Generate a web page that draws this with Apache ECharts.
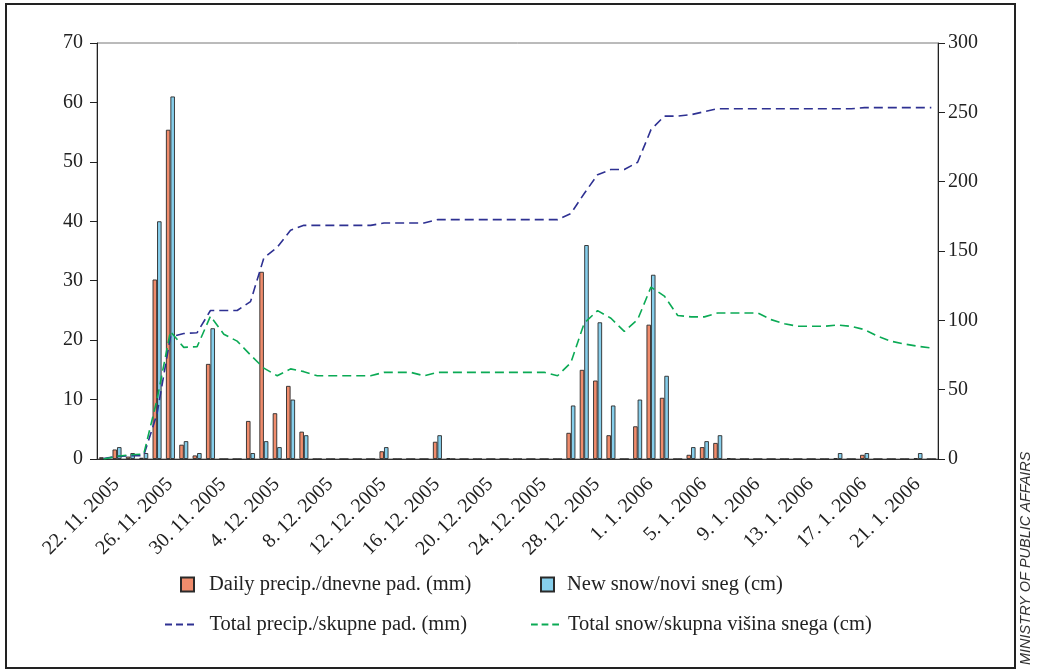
<!DOCTYPE html>
<html>
<head>
<meta charset="utf-8">
<script src="https://cdn.jsdelivr.net/npm/echarts@6/dist/echarts.min.js"></script>
<style>html,body{margin:0;padding:0;background:#fff;}#c{width:1038px;height:670px;}</style>
</head>
<body>
<div id="c"></div>
<script>
const categories = [
 '22. 11. 2005','23. 11. 2005','24. 11. 2005','25. 11. 2005','26. 11. 2005','27. 11. 2005','28. 11. 2005','29. 11. 2005','30. 11. 2005',
 '1. 12. 2005','2. 12. 2005','3. 12. 2005','4. 12. 2005','5. 12. 2005','6. 12. 2005','7. 12. 2005','8. 12. 2005','9. 12. 2005','10. 12. 2005',
 '11. 12. 2005','12. 12. 2005','13. 12. 2005','14. 12. 2005','15. 12. 2005','16. 12. 2005','17. 12. 2005','18. 12. 2005','19. 12. 2005',
 '20. 12. 2005','21. 12. 2005','22. 12. 2005','23. 12. 2005','24. 12. 2005','25. 12. 2005','26. 12. 2005','27. 12. 2005','28. 12. 2005',
 '29. 12. 2005','30. 12. 2005','31. 12. 2005','1. 1. 2006','2. 1. 2006','3. 1. 2006','4. 1. 2006','5. 1. 2006','6. 1. 2006','7. 1. 2006',
 '8. 1. 2006','9. 1. 2006','10. 1. 2006','11. 1. 2006','12. 1. 2006','13. 1. 2006','14. 1. 2006','15. 1. 2006','16. 1. 2006','17. 1. 2006',
 '18. 1. 2006','19. 1. 2006','20. 1. 2006','21. 1. 2006','22. 1. 2006','23. 1. 2006'
];
const dailyPrecip = [
 0.3,1.6,0.4,0.2,30.2,55.4,2.4,0.6,16.0,
 0,0,6.4,31.5,7.7,12.3,4.6,0,0,0,
 0,0,1.3,0,0,0,2.9,0.15,0,
 0,0,0,0,0,0,0,4.4,15.0,
 13.2,4.0,0,5.5,22.6,10.3,0,0.7,2.0,2.7,
 0.15,0,0,0,0,0,0,0,0.15,0,
 0.7,0,0,0,0.15,0
];
const newSnow = [
 0,2,1,1,40,61,3,1,22,
 0,0,1,3,2,10,4,0,0,0,
 0,0,2,0,0,0,4,0,0,
 0,0,0,0,0,0,0,9,36,
 23,9,0,10,31,14,0,2,3,4,
 0,0,0,0,0,0,0,0,1,0,
 1,0,0,0,1,0
];
const totalPrecip = [
 0.3,1.9,2.3,2.5,32.7,88.1,90.5,91.1,107.1,
 107.1,107.1,113.5,145,152.7,165,168.5,168.5,168.5,168.5,
 168.5,168.5,170.2,170.2,170.2,170.2,172.6,172.6,172.6,
 172.6,172.6,172.6,172.6,172.6,172.6,172.6,177,191.5,
 205,208.8,208.8,214,237.5,247.3,247.3,248.3,250.5,252.6,
 252.6,252.6,252.6,252.6,252.6,252.6,252.6,252.6,252.6,252.6,
 253.4,253.4,253.4,253.4,253.4,253.4
];
const totalSnow = [
 0,2,3,3.5,43,92,80.5,81,103,
 90,85,75,65.5,60,65,63,60,60,60,
 60,60,62.5,62.5,62.5,60,62.5,62.5,62.5,
 62.5,62.5,62.5,62.5,62.5,62.5,60,69.5,98,
 107,101.5,92,100.5,124,117.5,103.5,102.5,102.5,105.3,
 105.3,105.3,105.3,100.5,97.6,95.7,95.7,95.7,96.6,95.7,
 93.3,88.5,84.9,82.9,81.3,80
];
const leftTicks = {min:0, max:70, interval:10};
const rightTicks = {min:0, max:300, interval:50};
const names = ['Daily precip./dnevne pad. (mm)','New snow/novi sneg (cm)','Total precip./skupne pad. (mm)','Total snow/skupna višina snega (cm)'];

const SERIF = '"Liberation Serif", "DejaVu Serif", serif';
const chart = echarts.init(document.getElementById('c'), null, {renderer:'canvas'});
const DASH_ICON = 'path://M0,0H7V2H0Z M11,0H18V2H11Z M22,0H29V2H22Z';
function lg(name, left, top, w, h, icon, pad){
  return {data:[{name:name, icon:icon}], left:left, top:top, itemWidth:w, itemHeight:h, selectedMode:false,
    textStyle:{fontFamily: SERIF, fontSize: 20.5, color:'#222', padding:[0,0,0,pad]}};
}
chart.setOption({
  animation:false,
  backgroundColor:'#fff',
  grid:{left:97, right:100, top:43, bottom:211, show:true, borderColor:'#777', borderWidth:1},
  legend:[
    lg(names[0], 175, 569, 13, 14, 'rect', 10),
    lg(names[1], 535, 569, 13, 14, 'rect', 8),
    lg(names[2], 160, 609, 30, 2, DASH_ICON, 10),
    lg(names[3], 526, 609, 28, 2, DASH_ICON, 4)
  ],
  xAxis:{
    type:'category', data:categories, boundaryGap:true,
    axisLine:{lineStyle:{color:'#333', width:1}},
    axisTick:{show:false},
    axisLabel:{interval:3, rotate:45, margin:35, padding:[0,-18,0,0], fontFamily:SERIF, fontSize:20, color:'#222'}
  },
  yAxis:[
    {type:'value', min:leftTicks.min, max:leftTicks.max, interval:leftTicks.interval, position:'left',
     axisLine:{show:true, lineStyle:{color:'#222'}}, axisTick:{show:true, length:7, lineStyle:{color:'#222'}},
     splitLine:{show:false}, axisLabel:{fontFamily:SERIF, fontSize:20, color:'#222', margin:14}},
    {type:'value', min:rightTicks.min, max:rightTicks.max, interval:rightTicks.interval, position:'right',
     axisLine:{show:true, lineStyle:{color:'#222'}}, axisTick:{show:true, length:7, lineStyle:{color:'#222'}},
     splitLine:{show:false}, axisLabel:{fontFamily:SERIF, fontSize:20, color:'#222', margin:10}}
  ],
  series:[
    {name:names[0], type:'bar', data:dailyPrecip, yAxisIndex:0, barWidth:4.5, barGap:'0%',
     itemStyle:{color:'#F08C6C', borderColor:'#2a2a2a', borderWidth:0.9}},
    {name:names[1], type:'bar', data:newSnow, yAxisIndex:0, barWidth:4.5, barGap:'0%',
     itemStyle:{color:'#86CEEB', borderColor:'#2a2a2a', borderWidth:0.9}},
    {name:names[2], type:'line', data:totalPrecip, yAxisIndex:1, symbol:'none',
     lineStyle:{color:'#2E3192', width:1.6, type:[9,5]}, itemStyle:{color:'#2E3192'}},
    {name:names[3], type:'line', data:totalSnow, yAxisIndex:1, symbol:'none',
     lineStyle:{color:'#0BAA55', width:1.6, type:[9,5]}, itemStyle:{color:'#0BAA55'}}
  ],
  graphic:[
    {type:'rect', shape:{x:6, y:4, width:1009, height:664}, style:{fill:'none', stroke:'#222', lineWidth:2}, silent:true},
    {type:'text', x:1026, y:665, rotation:Math.PI/2,
     style:{text:'MINISTRY OF PUBLIC AFFAIRS', font:'italic 14.5px "Liberation Sans", Arial, sans-serif', fill:'#333', textAlign:'left', textVerticalAlign:'middle'}}
  ]
});
</script>
</body>
</html>
